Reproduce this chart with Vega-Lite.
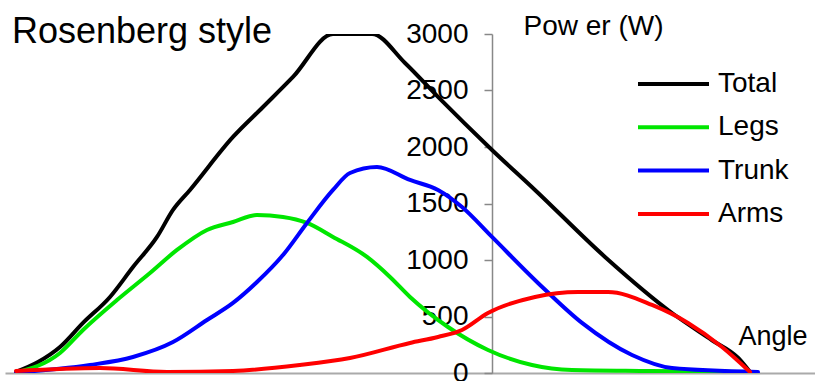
{
  "$schema": "https://vega.github.io/schema/vega-lite/v6.json",
  "autosize": "none",
  "width": 810,
  "height": 339,
  "padding": {"left": 5, "top": 34, "right": 0, "bottom": 8},
  "background": "white",
  "config": {
    "view": {"stroke": null},
    "font": "Liberation Sans"
  },
  "title": {
    "text": "Rosenberg style",
    "anchor": "start",
    "frame": "group",
    "fontSize": 36,
    "fontWeight": "normal",
    "color": "#000000",
    "font": "Liberation Sans",
    "baseline": "alphabetic",
    "offset": 0,
    "dx": 7,
    "dy": 67
  },
  "data": {
    "values": [
      {"part": "Total", "angle": -95.2, "power": 10},
      {"part": "Total", "angle": -90.8, "power": 97},
      {"part": "Total", "angle": -86.4, "power": 230},
      {"part": "Total", "angle": -81.8, "power": 443},
      {"part": "Total", "angle": -76.4, "power": 673},
      {"part": "Total", "angle": -71.8, "power": 938},
      {"part": "Total", "angle": -67, "power": 1204},
      {"part": "Total", "angle": -63.8, "power": 1443},
      {"part": "Total", "angle": -60.4, "power": 1620},
      {"part": "Total", "angle": -51.8, "power": 2089},
      {"part": "Total", "angle": -45.8, "power": 2354},
      {"part": "Total", "angle": -39.8, "power": 2620},
      {"part": "Total", "angle": -31.8, "power": 3000},
      {"part": "Total", "angle": -24, "power": 3000},
      {"part": "Total", "angle": -17.4, "power": 2744},
      {"part": "Total", "angle": -10.8, "power": 2443},
      {"part": "Total", "angle": 0, "power": 1974},
      {"part": "Total", "angle": 8.6, "power": 1620},
      {"part": "Total", "angle": 22.6, "power": 1027},
      {"part": "Total", "angle": 36, "power": 531},
      {"part": "Total", "angle": 44, "power": 290},
      {"part": "Total", "angle": 49.2, "power": 135},
      {"part": "Total", "angle": 51.6, "power": 9},

      {"part": "Legs", "angle": -95.2, "power": 5},
      {"part": "Legs", "angle": -86.4, "power": 177},
      {"part": "Legs", "angle": -81.8, "power": 381},
      {"part": "Legs", "angle": -75, "power": 646},
      {"part": "Legs", "angle": -68.4, "power": 885},
      {"part": "Legs", "angle": -63, "power": 1089},
      {"part": "Legs", "angle": -57, "power": 1266},
      {"part": "Legs", "angle": -51.8, "power": 1336},
      {"part": "Legs", "angle": -47, "power": 1398},
      {"part": "Legs", "angle": -41.8, "power": 1381},
      {"part": "Legs", "angle": -37, "power": 1328},
      {"part": "Legs", "angle": -31.8, "power": 1204},
      {"part": "Legs", "angle": -25, "power": 1027},
      {"part": "Legs", "angle": -20.4, "power": 850},
      {"part": "Legs", "angle": -16.4, "power": 673},
      {"part": "Legs", "angle": -8.8, "power": 407},
      {"part": "Legs", "angle": -0.8, "power": 204},
      {"part": "Legs", "angle": 8, "power": 71},
      {"part": "Legs", "angle": 16, "power": 27},
      {"part": "Legs", "angle": 31.6, "power": 18},
      {"part": "Legs", "angle": 49.2, "power": 9},

      {"part": "Trunk", "angle": -95.2, "power": 5},
      {"part": "Trunk", "angle": -80.4, "power": 71},
      {"part": "Trunk", "angle": -71.8, "power": 142},
      {"part": "Trunk", "angle": -63.8, "power": 274},
      {"part": "Trunk", "angle": -57, "power": 469},
      {"part": "Trunk", "angle": -51.8, "power": 620},
      {"part": "Trunk", "angle": -47, "power": 805},
      {"part": "Trunk", "angle": -41.8, "power": 1044},
      {"part": "Trunk", "angle": -37, "power": 1328},
      {"part": "Trunk", "angle": -31.8, "power": 1620},
      {"part": "Trunk", "angle": -28.4, "power": 1770},
      {"part": "Trunk", "angle": -23, "power": 1823},
      {"part": "Trunk", "angle": -16.4, "power": 1708},
      {"part": "Trunk", "angle": -10.8, "power": 1620},
      {"part": "Trunk", "angle": -6, "power": 1469},
      {"part": "Trunk", "angle": 0, "power": 1204},
      {"part": "Trunk", "angle": 9.2, "power": 797},
      {"part": "Trunk", "angle": 18, "power": 443},
      {"part": "Trunk", "angle": 28, "power": 159},
      {"part": "Trunk", "angle": 36, "power": 44},
      {"part": "Trunk", "angle": 53.2, "power": 9},

      {"part": "Arms", "angle": -95.2, "power": 18},
      {"part": "Arms", "angle": -78.4, "power": 44},
      {"part": "Arms", "angle": -65, "power": 9},
      {"part": "Arms", "angle": -51.8, "power": 18},
      {"part": "Arms", "angle": -38.4, "power": 71},
      {"part": "Arms", "angle": -28.4, "power": 133},
      {"part": "Arms", "angle": -16.4, "power": 266},
      {"part": "Arms", "angle": -10.8, "power": 319},
      {"part": "Arms", "angle": -6, "power": 381},
      {"part": "Arms", "angle": -0.8, "power": 531},
      {"part": "Arms", "angle": 8.6, "power": 673},
      {"part": "Arms", "angle": 17.2, "power": 717},
      {"part": "Arms", "angle": 23.2, "power": 717},
      {"part": "Arms", "angle": 32, "power": 602},
      {"part": "Arms", "angle": 39.2, "power": 443},
      {"part": "Arms", "angle": 46, "power": 230},
      {"part": "Arms", "angle": 51.6, "power": 9}
    ]
  },
  "mark": {"type": "line", "strokeWidth": 4, "strokeJoin": "round", "strokeCap": "round", "interpolate": "monotone", "clip": true},
  "encoding": {
    "x": {
      "field": "angle",
      "type": "quantitative",
      "scale": {"domain": [-97.4, 64.6], "nice": false, "zero": false},
      "axis": {
        "labels": false,
        "ticks": false,
        "grid": false,
        "domainColor": "#aaaaaa",
        "domainWidth": 2,
        "title": "Angle",
        "titleFont": "Liberation Sans",
        "titleFontSize": 27,
        "titleFontWeight": "normal",
        "titleColor": "#000000",
        "titleAlign": "left",
        "titleBaseline": "alphabetic",
        "titleX": 733,
        "titleY": -29
      }
    },
    "y": {
      "field": "power",
      "type": "quantitative",
      "scale": {"domain": [0, 3000], "nice": false},
      "axis": {
        "values": [0, 500, 1000, 1500, 2000, 2500, 3000],
        "format": "d",
        "offset": -487,
        "grid": false,
        "domainColor": "#888888",
        "domainWidth": 1.5,
        "tickColor": "#888888",
        "tickSize": 8,
        "tickWidth": 1.5,
        "labelFont": "Liberation Sans",
        "labelFontSize": 28,
        "labelColor": "#000000",
        "labelPadding": 16,
        "labelOverlap": false,
        "labelBound": false,
        "labelFlush": false,
        "title": "Pow er (W)",
        "titleFont": "Liberation Sans",
        "titleFontSize": 28,
        "titleFontWeight": "normal",
        "titleColor": "#000000",
        "titleAngle": 0,
        "titleAlign": "left",
        "titleBaseline": "alphabetic",
        "titleX": 31,
        "titleY": 0
      }
    },
    "color": {
      "field": "part",
      "type": "nominal",
      "sort": ["Total", "Legs", "Trunk", "Arms"],
      "scale": {"domain": ["Total", "Legs", "Trunk", "Arms"], "range": ["#000000", "#00e600", "#0000ff", "#ff0000"]},
      "legend": {
        "orient": "none",
        "legendX": 631,
        "legendY": 36,
        "title": null,
        "padding": 0,
        "symbolType": "stroke",
        "symbolSize": 5041,
        "symbolStrokeWidth": 4,
        "symbolOffset": 0,
        "labelFont": "Liberation Sans",
        "labelFontSize": 28,
        "labelColor": "#000000",
        "labelOffset": 7,
        "rowPadding": 15.3,
        "labelLimit": 200,
        "encode": {
          "symbols": {"update": {"y": {"value": 14}}},
          "labels": {"update": {"y": {"value": 14}}}
        }
      }
    }
  }
}
